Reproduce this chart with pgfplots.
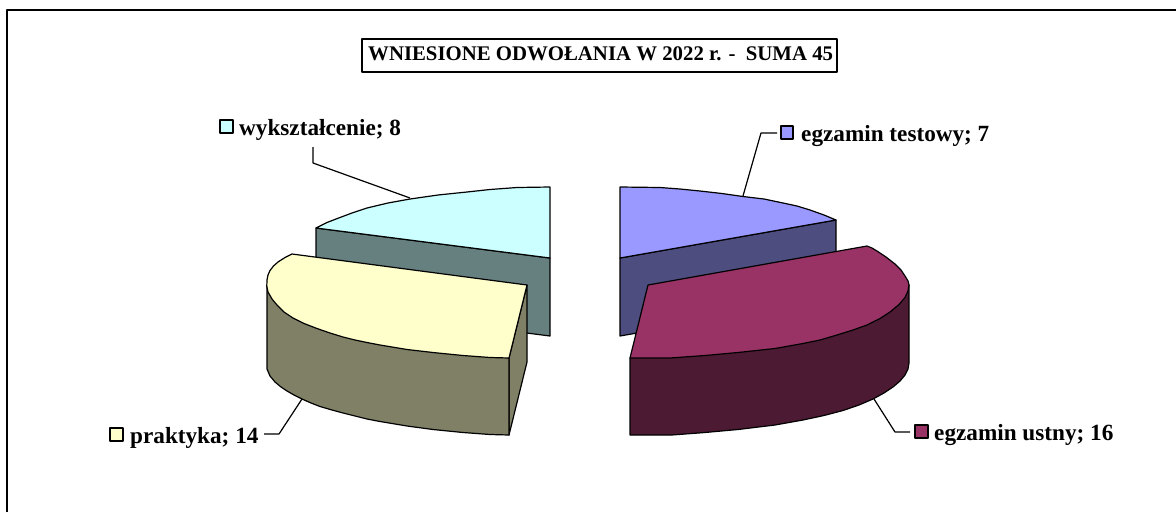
\documentclass[border=0pt]{standalone}
\usepackage{pgfplots}
\pgfplotsset{compat=1.18}
\usepackage{fontspec}
\setmainfont{Liberation Serif}
\definecolor{cyanT}{HTML}{CCFFFF}\definecolor{cyanW}{HTML}{668080}
\definecolor{blueT}{HTML}{9999FF}\definecolor{blueW}{HTML}{4D4D80}
\definecolor{yelT}{HTML}{FFFFCC}\definecolor{yelW}{HTML}{808066}
\definecolor{marT}{HTML}{993366}\definecolor{marW}{HTML}{4D1A33}
\newcommand{\lab}[2]{\fontsize{#1}{#1}\selectfont\bfseries #2}
\begin{document}
\begin{tikzpicture}
\begin{axis}[width=1176pt,height=512pt,scale only axis,xmin=0,xmax=1176,ymin=0,ymax=512,y dir=reverse,hide axis,clip=true,
  every axis plot/.append style={line join=round,line width=1.2pt}]
% frame
\addplot[black,line width=2pt] coordinates {(7,512)(7,10)(1176,10)};
% title box
\addplot[draw=black,fill=white] coordinates {(362,39)(837,39)(837,72)(362,72)} --cycle;
% wyksztalcenie
\addplot[draw=black,fill=cyanW] coordinates {(316,228)(550,258)(550,336)(316,306)} --cycle;
\addplot[draw=black,fill=cyanT] coordinates {(550,187)(517,187.5)(490,189.5)(467,192)(438,195)(410,199)(388,203)(367,208)(352,213)(340,217.5)(327,222.5)(316,228)(550,258)} --cycle;
% egzamin testowy
\addplot[draw=black,fill=blueW] coordinates {(620,258)(836,220)(836,298)(620,336)} --cycle;
\addplot[draw=black,fill=blueT] coordinates {(620,187)(660,187.5)(680,189)(700,191)(722,193.5)(743,196.5)(764,199)(783,203)(797,206)(810,210)(824,215)(836,220)(620,258)} --cycle;
% praktyka
\addplot[draw=black,fill=yelW] coordinates {(509,358)(527,285)(527,362)(509,435)} --cycle;
\addplot[draw=black,fill=yelW] coordinates {(267,285)(267,369)(270,376)(275,382)(281,387)(287,391)(294,395)(302,399)(311,403)(320,406.5)(332,410)(343,413)(355,416)(367,419)(380,421.5)(407,426)(433,429.5)(463,432.5)(490,434.5)(509,435)(509,358)} --cycle;
\addplot[draw=black,fill=yelT] coordinates {(292,254)(285,257.5)(278,262)(273.5,266)(270,270.5)(268,275)(267,280)(266.8,286)(268,292)(272,299)(277,305)(284,312)(293,318)(304,323.5)(317,328.5)(330,333)(343,337)(355,340)(367,342.5)(380,345)(407,349.5)(433,352.5)(463,355.5)(490,357.5)(509,358)(527,285)} --cycle;
% egzamin ustny
\addplot[draw=black,fill=marW] coordinates {(909,285)(909,363)(908,369)(905,375)(900,381)(893,387)(884,393)(873,399)(859,405)(843,410.5)(824,415.5)(803,420)(775,425)(738,429.5)(705,432.5)(672,435)(630,435)(630,358)} --cycle;
\addplot[draw=black,fill=marT] coordinates {(648,285)(867,246)(872,248)(877,251)(886,257)(895,264)(901,270)(905,276)(908,281)(909,285)(908,291)(905,297.5)(899,304.5)(890,312)(880,318.5)(867,325)(853,330)(837,335)(820,340)(803,343.5)(775,348.5)(738,352.5)(705,355.5)(670,358)(630,358)} --cycle;
% leader lines
\addplot[black] coordinates {(313,147)(313,163)(410,198)};
\addplot[black] coordinates {(777,133)(761,133)(743,196)};
\addplot[black] coordinates {(910,432)(895,432)(874,399)};
\addplot[black] coordinates {(264,434)(279,434)(302,399)};
% legend keys
\addplot[draw=black,fill=cyanT] coordinates {(220,120)(233,120)(233,133)(220,133)} --cycle;
\addplot[draw=black,fill=blueT] coordinates {(781,126)(793,126)(793,139)(781,139)} --cycle;
\addplot[draw=black,fill=marT] coordinates {(915,425)(928,425)(928,438)(915,438)} --cycle;
\addplot[draw=black,fill=yelT] coordinates {(110,428)(123,428)(123,441)(110,441)} --cycle;
% text
\node[anchor=base west,inner sep=0pt] at (axis cs:368,60) {\lab{20.8}{WNIESIONE ODWOŁANIA W 2022 r. -\ \ SUMA 45}};
\node[anchor=base west,inner sep=0pt] at (axis cs:239,135) {\lab{23.2}{wykształcenie; 8}};
\node[anchor=base west,inner sep=0pt] at (axis cs:801,141) {\lab{23.2}{egzamin testowy; 7}};
\node[anchor=base west,inner sep=0pt] at (axis cs:934,440) {\lab{23.2}{egzamin ustny; 16}};
\node[anchor=base west,inner sep=0pt] at (axis cs:130,443) {\lab{23.2}{praktyka; 14}};
\end{axis}
\path[use as bounding box] (0,0) rectangle (1176pt,512pt);
\end{tikzpicture}
\end{document}
